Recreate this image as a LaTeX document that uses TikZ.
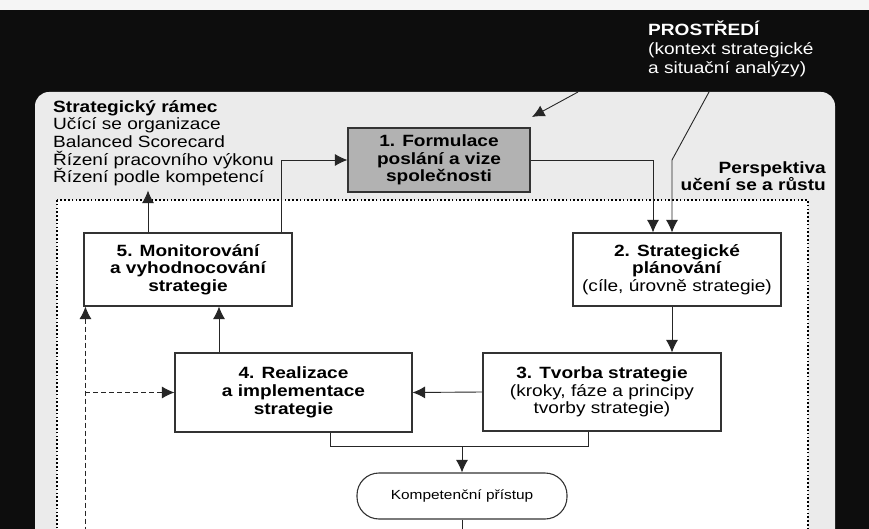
\documentclass[tikz,border=0pt]{standalone}
\usepackage{fontspec}
\setmainfont{Liberation Sans}[FakeStretch=1.17]
\usetikzlibrary{arrows.meta,positioning}
\newcommand{\txtsize}{\fontsize{16.3}{17.7}\selectfont}
\newcommand{\smallsize}{\fontsize{13.2}{15}\selectfont}
\tikzset{
  stage/.style={draw=black!80,line width=1.1pt,fill=white,align=center,inner sep=2pt},
  lbl/.style={inner sep=0pt},
  conn/.style={line width=0.9pt,draw=black!85},
  tip/.style={-{Latex[length=12.5pt,width=12pt]}},
  backtip/.style={{Latex[length=12.5pt,width=12pt]}-},
}
\begin{document}
\begin{tikzpicture}[x=1pt,y=-1pt,font=\txtsize]
  \clip (0,0) rectangle (869,529);
  % background and frames
  \fill[black!4] (0,0) rectangle (869,10);
  \fill[black!95] (0,10) rectangle (869,529);
  \fill[black!8,rounded corners=14pt] (35,92) rectangle (835,620);
  \draw[fill=white,line width=1.4pt,dash pattern=on 1.6pt off 2.2pt] (57,200) rectangle (808,620);

  % texts
  \node[lbl,anchor=north west,align=left,text=white,font=\fontsize{16.3}{18.6}\selectfont] (env) at (648,21)
    {\textbf{PROSTŘEDÍ}\\(kontext strategické\\a situační analýzy)};
  \node[lbl,anchor=north west,align=left,inner ysep=4pt] (frame) at (53,96)
    {\textbf{Strategický rámec}\\Učící se organizace\\Balanced Scorecard\\Řízení pracovního výkonu\\Řízení podle kompetencí};
  \node[lbl,anchor=north east,align=right,font=\txtsize\bfseries] (persp) at (826,161)
    {Perspektiva\\učení se a růstu};

  % stages
  \node[stage,fill=black!30,font=\txtsize\bfseries,minimum width=182pt,minimum height=64pt] (form) at (439,160)
    {1. Formulace\\poslání a vize\\společnosti};
  \node[stage,font=\txtsize\bfseries,minimum width=208pt,minimum height=73pt] (mon) at (188,269.5)
    {5. Monitorování\\a vyhodnocování\\strategie};
  \node[stage,minimum width=208pt,minimum height=73pt] (plan) at (677,269.5)
    {\textbf{2. Strategické}\\\textbf{plánování}\\(cíle, úrovně strategie)};
  \node[stage,minimum width=238pt,minimum height=78pt] (tvorba) at (602,392)
    {\textbf{3. Tvorba strategie}\\(kroky, fáze a principy\\tvorby strategie)};
  \node[stage,font=\txtsize\bfseries,minimum width=237pt,minimum height=79pt] (real) at (293.5,392.5)
    {4. Realizace\\a implementace\\strategie};
  \node[stage,rounded corners=22pt,font=\smallsize,minimum width=210pt,minimum height=46pt] (komp) at (462,496)
    {Kompetenční přístup};

  % connectors
  \coordinate (e1) at (578,92);
  \coordinate (e2) at (709,92);
  \coordinate (tip1) at (532,117);
  \coordinate (bend) at (672,160);
  \draw[conn,tip] (e1) -- (tip1);
  \draw[conn,tip] (e2) -- (bend) -- (bend |- plan.north);
  \draw[conn,tip] (form.east) -| ([xshift=-24pt]plan.north);
  \coordinate (up1) at ([xshift=-40pt]mon.north);
  \draw[conn,tip] (up1) -- (up1 |- frame.south);
  \coordinate (up2) at ([xshift=93pt]mon.north);
  \draw[conn,tip] (up2) |- (form.west);
  \coordinate (dn1) at ([xshift=-5pt]plan.south);
  \draw[conn,tip] (dn1) -- (dn1 |- tvorba.north);
  \draw[conn,tip] (tvorba.west) -- (real.east);
  \coordinate (up3) at ([xshift=-74.5pt]real.north);
  \draw[conn,tip] (up3) -- (up3 |- mon.south);
  \coordinate (br1) at ([xshift=36.5pt]real.south);
  \coordinate (br2) at ([xshift=-14pt]tvorba.south);
  \draw[conn] (br1) -- ++(0,14) coordinate (brl) -| (br2);
  \draw[conn,tip] (brl -| komp.north) -- (komp.north);
  \draw[conn] (komp.south) -- ++(0,20);
  \coordinate (fb) at ([xshift=2pt]mon.south west);
  \draw[conn,dash pattern=on 5pt off 3pt,backtip] (fb) -- ++(0,240);
  \draw[conn,dash pattern=on 5pt off 3pt,tip] (fb |- real.west) -- (real.west);
\end{tikzpicture}
\end{document}
